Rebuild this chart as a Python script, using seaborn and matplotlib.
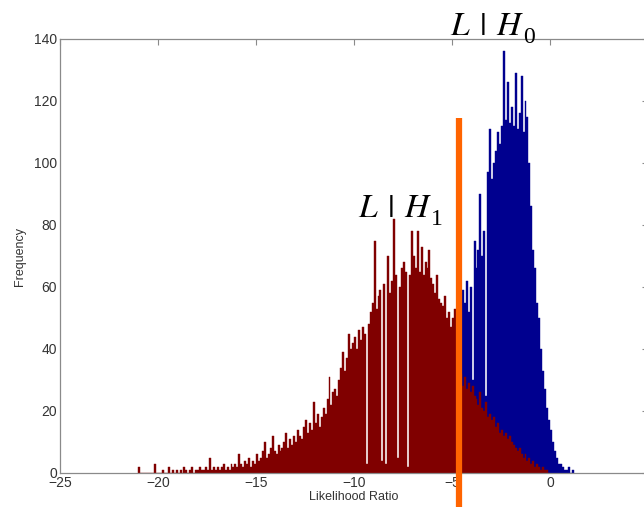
import numpy as np
import pandas as pd
import seaborn as sns
import matplotlib
matplotlib.use("Agg")
import matplotlib.pyplot as plt

# ---- data (bin counts, bin width 0.1) ----
bin_width = 0.1
red_start = -21.0
red_counts = [
    2, 0, 0, 0, 0, 0, 0, 0, 3, 0,          # -21.0 .. -20.1
    0, 0, 1, 0, 0, 2, 0, 1, 0, 1,          # -20.0 .. -19.1
    0, 1, 0, 2, 1, 0, 1, 2, 0, 1,          # -19.0 .. -18.1
    1, 2, 1, 1, 2, 1, 5, 1, 2, 1,          # -18.0 .. -17.1
    2, 1, 2, 3, 1, 2, 1, 3, 2, 3,          # -17.0 .. -16.1
    2, 6, 3, 2, 4, 3, 5, 2, 4, 3,          # -16.0 .. -15.1
    6, 4, 5, 7, 10, 5, 6, 8, 12, 7,        # -15.0 .. -14.1
    6, 9, 7, 8, 10, 13, 8, 11, 9, 12,      # -14.0 .. -13.1
    10, 14, 12, 11, 15, 17, 13, 16, 14, 23,  # -13.0 .. -12.1
    16, 19, 15, 18, 21, 19, 24, 31, 22, 26,  # -12.0 .. -11.1
    27, 25, 30, 34, 39, 33, 37, 45, 40, 42,  # -11.0 .. -10.1
    44, 40, 46, 43, 47, 45, 3, 48, 52, 55,   # -10.0 .. -9.1
    75, 53, 57, 59, 4, 61, 3, 70, 58, 62,    # -9.0 .. -8.1
    82, 64, 5, 60, 66, 68, 65, 2, 64, 78,    # -8.0 .. -7.1
    70, 66, 78, 65, 73, 64, 68, 66, 72, 63,  # -7.0 .. -6.1
    61, 58, 64, 56, 55, 54, 57, 50, 52, 47,  # -6.0 .. -5.1
    50, 53, 35, 30, 32, 28, 31, 27, 29, 26,  # -5.0 .. -4.1
    28, 25, 24, 22, 26, 21, 20, 23, 18, 19,  # -4.0 .. -3.1
    17, 18, 15, 16, 13, 14, 12, 13, 11, 12,  # -3.0 .. -2.1
    10, 9, 8, 7, 8, 6, 5, 6, 4, 5,           # -2.0 .. -1.1
    3, 4, 2, 3, 2, 1, 2, 1, 1, 0,            # -1.0 .. -0.1
]
blue_start = -4.7
blue_counts = [
    35, 50, 59, 55, 62, 52, 60, 30, 75, 66,   # -4.7 .. -3.8
    72, 90, 70, 78, 25, 97, 111, 95, 100, 104,  # -3.7 .. -2.8
    110, 106, 112, 136, 114, 126, 113, 118, 112, 129,  # -2.7 .. -1.8
    111, 116, 128, 110, 120, 115, 100, 86, 72, 66,  # -1.7 .. -0.8
    55, 50, 40, 33, 27, 21, 17, 14, 10, 7,    # -0.7 .. 0.2
    5, 3, 3, 2, 1, 1, 2, 0, 1,                # 0.3 .. 1.1
]
threshold = -4.65
threshold_top = 114.5
threshold_bottom = -11.5

x_ticks = [-25, -20, -15, -10, -5, 0, 5]
y_ticks = [0, 20, 40, 60, 80, 100, 120, 140]
hyp_main = r"$L\;\,|\;\,H$"
h0_sub = "0"
h1_sub = "1"
h0_pos = (-5.1, 141.3)
h1_pos = (-9.8, 82.6)


def to_frame(start, counts):
    centers = start + bin_width * (np.arange(len(counts)) + 0.5)
    return pd.DataFrame({"x": centers, "w": np.asarray(counts, dtype=float)})


red_df = to_frame(red_start, red_counts)
blue_df = to_frame(blue_start, blue_counts)
red_range = (red_start, red_start + bin_width * len(red_counts))
blue_range = (blue_start, blue_start + bin_width * len(blue_counts))

sns.set_style("white")
plt.rcParams["font.family"] = ["Liberation Sans", "DejaVu Sans"]
plt.rcParams["mathtext.fontset"] = "stix"

fig = plt.figure(figsize=(6.44, 5.07), dpi=100)
ax = fig.add_axes([60 / 644, 34 / 507, 588 / 644, 434 / 507])

navy = "#00008f"
maroon = "#800000"
sns.histplot(data=blue_df, x="x", weights="w", binwidth=bin_width, binrange=blue_range,
             ax=ax, color=navy, alpha=1, linewidth=0.3, edgecolor=navy)
sns.histplot(data=red_df, x="x", weights="w", binwidth=bin_width, binrange=red_range,
             ax=ax, color=maroon, alpha=1, linewidth=0.3, edgecolor=maroon)

ax.plot([threshold, threshold], [threshold_bottom, threshold_top],
        color="#ff6400", lw=4.5, clip_on=False, solid_capstyle="butt", zorder=5)

ax.set_xlim(-25, 5)
ax.set_ylim(0, 140)
ax.set_xticks(x_ticks)
ax.set_yticks(y_ticks)
ax.set_xticklabels([f"\u2212{abs(t)}" if t < 0 else str(t) for t in x_ticks])
ax.tick_params(direction="in", top=True, right=True, length=4, width=0.8,
               labelsize=10, colors="#8a8a8a", labelcolor="#333333", pad=2)
for s in ax.spines.values():
    s.set_color("#8a8a8a")
    s.set_linewidth(0.9)
ax.set_xlabel("Likelihood Ratio", fontsize=9, labelpad=1, color="#333333")
ax.set_ylabel("Frequency", fontsize=9, labelpad=6, color="#333333")

for pos, sub in [(h0_pos, h0_sub), (h1_pos, h1_sub)]:
    ax.text(*pos, hyp_main, fontsize=24, ha="left", va="baseline",
            clip_on=False, color="black", zorder=6)
    ax.annotate(sub, xy=pos, xycoords="data", xytext=(73, -8),
                textcoords="offset pixels", fontsize=17, ha="left",
                va="baseline", family=["Liberation Serif", "DejaVu Serif"],
                color="black", annotation_clip=False, zorder=6)

fig.savefig("out.png", dpi=100)
